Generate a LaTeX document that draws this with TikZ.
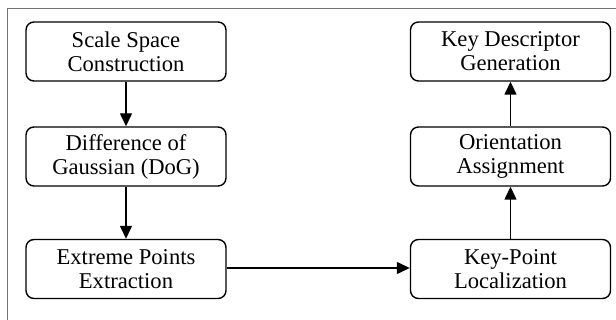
\documentclass[tikz,border=0pt]{standalone}
\usepackage{fontspec}
\setmainfont{Liberation Serif}
\usetikzlibrary{arrows.meta}
\begin{document}
\begin{tikzpicture}[x=1pt,y=-1pt,
  stepbox/.style={draw,line width=1.4pt,rounded corners=8pt,minimum width=200pt,minimum height=59pt,inner sep=0pt,align=center,font=\fontsize{22.6}{24}\selectfont},
  flow/.style={line width=1.4pt,-{Triangle[length=13pt,width=12pt]}}]
\useasboundingbox (0,0) rectangle (616,320);
\draw[line width=1.5pt,color=black!55] (7.5,320) -- (7.5,8.3) -- (616,8.3);
\node[stepbox] (a) at (126,51.5) {Scale Space\\Construction};
\node[stepbox] (b) at (126,156.5) {Difference of\\Gaussian (DoG)};
\node[stepbox] (c) at (126,269) {Extreme Points\\Extraction};
\node[stepbox] (d) at (510.5,269) {Key-Point\\Localization};
\node[stepbox] (e) at (510.5,156.5) {Orientation\\Assignment};
\node[stepbox] (f) at (510.5,51.5) {Key Descriptor\\Generation};
\draw[flow] (a) -- (b);
\draw[flow] (b) -- (c);
\draw[flow] (c.east |- 0,268) -- (d.west |- 0,268);
\draw[flow] (d) -- (e);
\draw[flow] (e) -- (f);
\end{tikzpicture}
\end{document}
